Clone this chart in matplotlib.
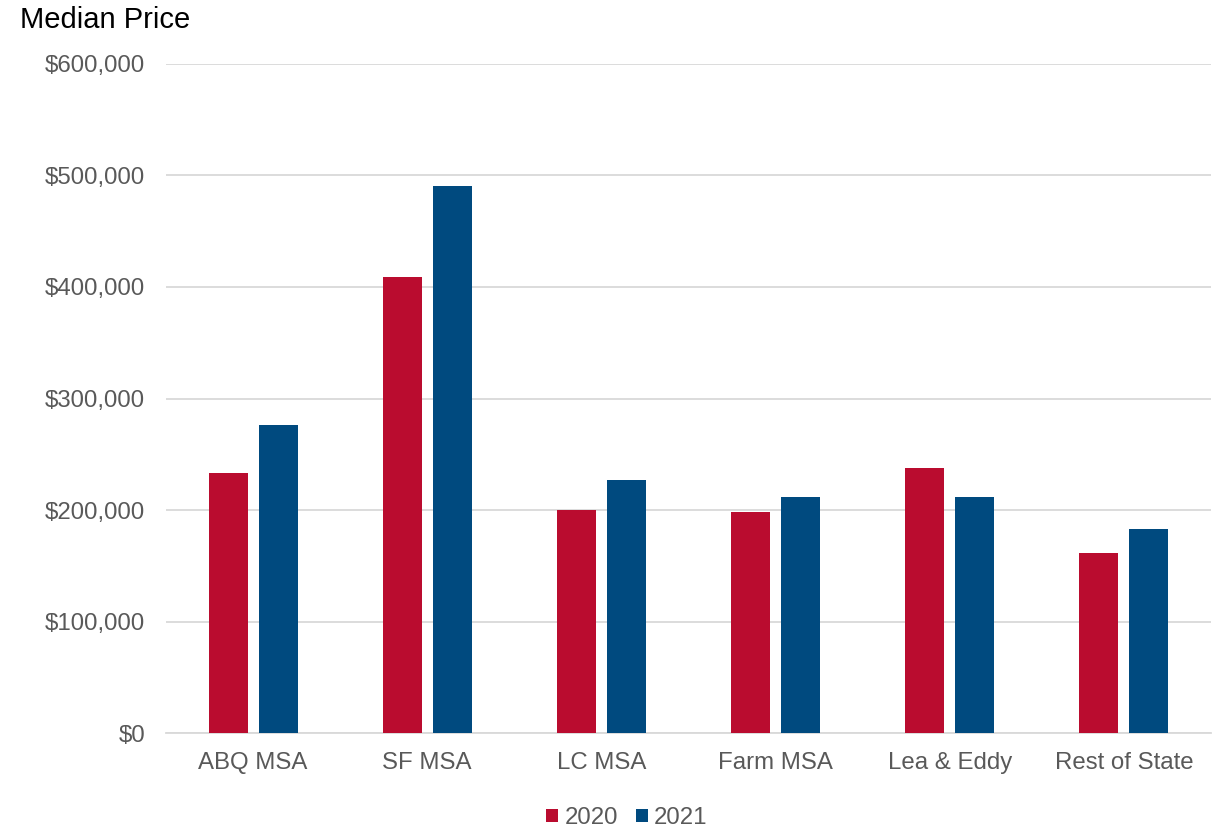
import matplotlib
matplotlib.use("Agg")
import matplotlib.pyplot as plt
import numpy as np
from matplotlib.ticker import FuncFormatter
from matplotlib.patches import Patch

plt.rcParams['font.family'] = ['Liberation Sans', 'DejaVu Sans']

categories = ["ABQ MSA", "SF MSA", "LC MSA", "Farm MSA", "Lea & Eddy", "Rest of State"]
series_names = ["2020", "2021"]
values_2020 = [233000, 409000, 200000, 198000, 238000, 161000]
values_2021 = [276000, 491000, 227000, 212000, 212000, 183000]
yticks = [0, 100000, 200000, 300000, 400000, 500000, 600000]

red = "#BA0C2F"
blue = "#004A7F"
grey_text = "#595959"

fig = plt.figure(figsize=(12.23, 8.31), dpi=100)
ax = fig.add_axes([0.1357, 0.1179, 0.8545, 0.8051])

x = np.arange(len(categories))
bw = 0.224
off = 0.1435
ax.bar(x - off, values_2020, width=bw, color=red, zorder=3)
ax.bar(x + off, values_2021, width=bw, color=blue, zorder=3)

ax.set_xlim(-0.5, len(categories) - 0.5)
ax.set_ylim(0, 600000)
ax.set_yticks(yticks)
ax.yaxis.set_major_formatter(FuncFormatter(lambda v, p: f"${v:,.0f}"))
ax.grid(axis="y", color="#D9D9D9", linewidth=1.3, zorder=0)
ax.set_axisbelow(True)
for s in ["top", "right", "left"]:
    ax.spines[s].set_visible(False)
ax.spines["bottom"].set_color("#D9D9D9")
ax.spines["bottom"].set_linewidth(1.3)

ax.set_xticks(x)
ax.set_xticklabels(categories)
ax.tick_params(axis="both", length=0, labelsize=17.3, labelcolor=grey_text)
ax.tick_params(axis="y", pad=15)
ax.tick_params(axis="x", pad=14)

fig.text(20 / 1223, 1 - 20 / 831, "Median Price", fontsize=21, color="black",
         ha="left", va="center")

handles = [Patch(facecolor=red, label=series_names[0]),
           Patch(facecolor=blue, label=series_names[1])]
leg = fig.legend(handles=handles, loc="center", bbox_to_anchor=(627 / 1223, 1 - 818 / 831),
                 ncol=2, frameon=False, fontsize=17.3, handlelength=0.5, handleheight=0.5,
                 handletextpad=0.25, columnspacing=0.75)
for t in leg.get_texts():
    t.set_color(grey_text)

fig.savefig("out.png", dpi=100)
